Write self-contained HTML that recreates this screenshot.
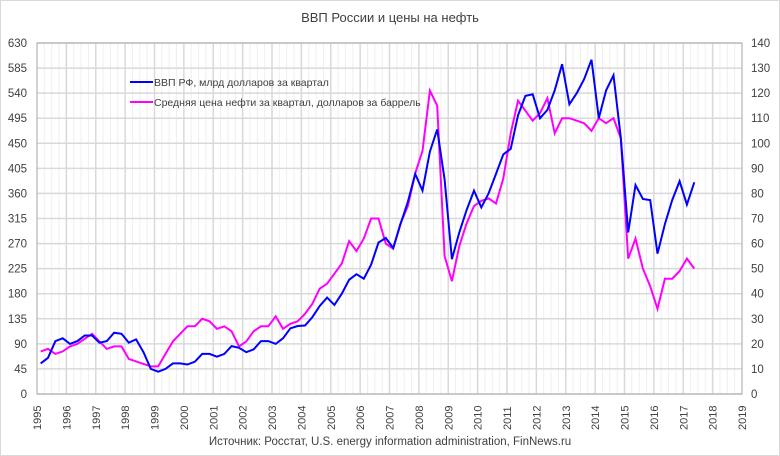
<!DOCTYPE html>
<html><head><meta charset="utf-8"><style>
html,body{margin:0;padding:0;background:#fff;}
svg{display:block;font-family:"Liberation Sans","DejaVu Sans",sans-serif;}
</style></head><body>
<svg id="s" width="780" height="456" viewBox="0 0 780 456" xmlns="http://www.w3.org/2000/svg">
<rect x="0.5" y="0.5" width="779" height="455" fill="#fff" stroke="#d9d9d9"/>
<text x="390" y="22" font-size="13" text-anchor="middle" fill="#404040">ВВП России и цены на нефть</text>
<g id="grid"></g>
<rect x="37" y="43" width="705" height="351" fill="none" stroke="#a6a6a6" stroke-width="1"/>
<g id="labels" font-size="11.5" fill="#404040"></g>
<polyline id="oil" fill="none" stroke="#ff00ff" stroke-width="2"/>
<polyline id="gdp" fill="none" stroke="#0000ff" stroke-width="2"/>
<line x1="130" y1="82" x2="153" y2="82" stroke="#0000ff" stroke-width="2"/>
<text x="154" y="86" font-size="10.5" fill="#404040">ВВП РФ,  млрд долларов за квартал</text>
<line x1="130" y1="102" x2="153" y2="102" stroke="#ff00ff" stroke-width="2"/>
<text x="154" y="106" font-size="10.5" fill="#404040">Средняя цена нефти за квартал, долларов за баррель</text>
<text x="390" y="445" font-size="11.5" text-anchor="middle" fill="#404040">Источник: Росстат, U.S. energy information administration, FinNews.ru</text>
</svg>
<script>
var L=37,R=742,T=43,B=394,py=(R-L)/24;
var g=document.getElementById('grid'),lb=document.getElementById('labels'),ns='http://www.w3.org/2000/svg';
function el(p,t,a,txt){var e=document.createElementNS(ns,t);for(var k in a)e.setAttribute(k,a[k]);if(txt!=null)e.textContent=txt;p.appendChild(e);return e;}
for(var q=1;q<96;q++){var x=L+q*py/4;el(g,'line',{x1:x,x2:x,y1:T,y2:B,stroke:q%4?'#efefef':'#d9d9d9','stroke-width':q%4?1:1.5});}
for(var i=0;i<=14;i++){var y=B-i*(B-T)/14;el(g,'line',{x1:L,x2:R,y1:y,y2:y,stroke:'#d9d9d9','stroke-width':1.5});
el(lb,'text',{x:27,y:y+4,'text-anchor':'end'},String(i*45));}
for(var i=0;i<=14;i++){var y=B-i*(B-T)/14;el(lb,'text',{x:751,y:y+4},String(i*10));}
for(var yr=1995;yr<=2019;yr++){var x=L+(yr-1995)*py;el(lb,'text',{x:0,y:0,transform:'translate('+(x+4)+',430) rotate(-90)','font-size':'11'},String(yr));}
var gdp=[55,65,95,100,90,95,105,105,92,95,110,108,92,98,75,45,40,45,55,55,53,58,72,72,67,72,86,83,75,80,95,95,90,100,118,122,123,138,158,173,160,180,205,215,207,232,272,280,262,305,345,395,365,435,475,385,242,290,330,365,335,360,395,430,440,500,535,538,495,510,545,592,520,540,565,600,495,545,572,460,290,375,350,348,252,305,348,382,340,380];
var oil=[17,18,16,17,19,20,22,24,21,18,19,19,14,13,12,11,11,16,21,24,27,27,30,29,26,27,25,19,21,25,27,27,31,26,28,29,32,36,42,44,48,52,61,57,62,70,70,60,58,68,75,88,97,121,115,55,45,59,68,75,77,78,76,86,104,117,113,109,112,118,104,110,110,109,108,105,110,108,110,102,54,62,50,43,34,46,46,49,54,50];
function pts(a,mx){return a.map(function(v,i){var x=L+(i+0.5)*py/4,y=B-v/mx*(B-T);return x.toFixed(1)+','+y.toFixed(1);}).join(' ');}
document.getElementById('gdp').setAttribute('points',pts(gdp,630));
document.getElementById('oil').setAttribute('points',pts(oil,140));
</script>
</body></html>
